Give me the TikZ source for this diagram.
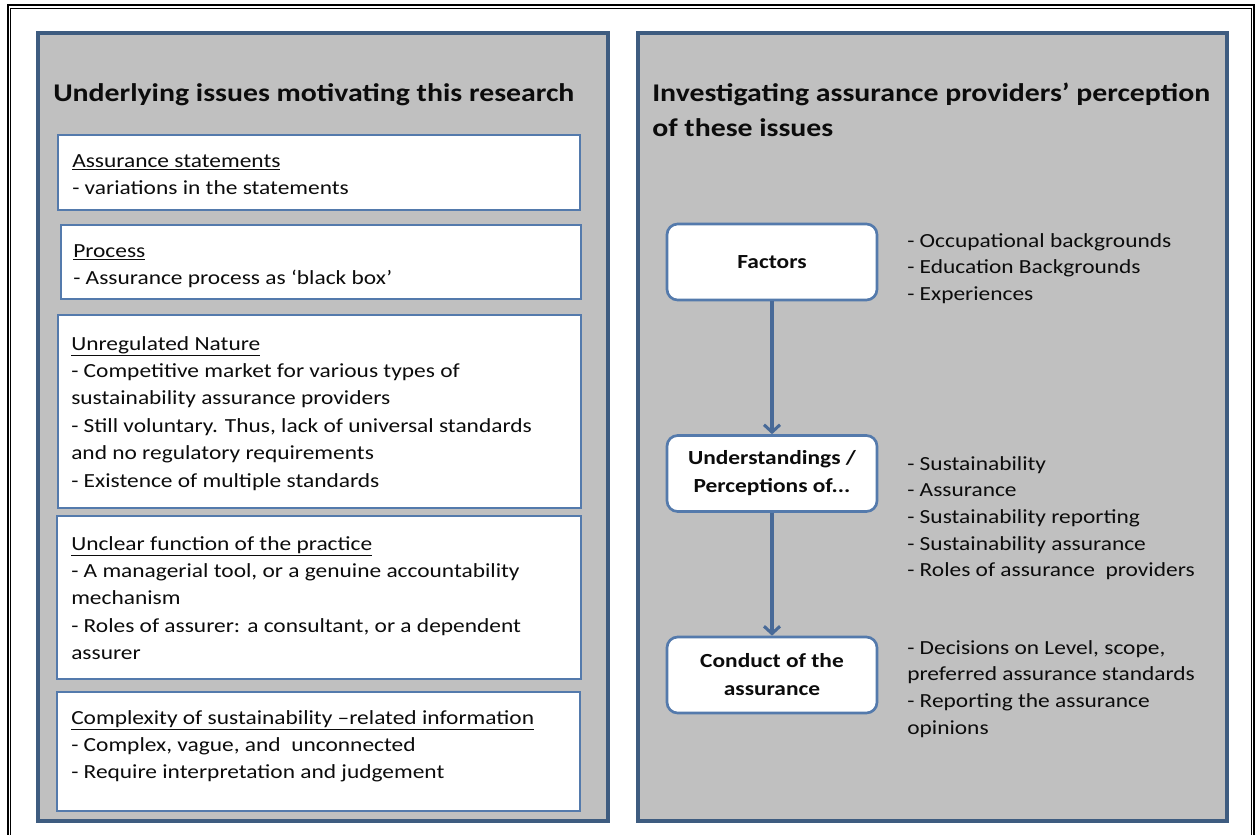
\documentclass[tikz,border=0pt]{standalone}
\usepackage{fontspec}
\setmainfont{Carlito}[FakeStretch=1.17]
\usetikzlibrary{arrows.meta}
\definecolor{panelfill}{RGB}{192,192,192}
\definecolor{panelline}{RGB}{62,92,128}
\definecolor{boxline}{RGB}{84,122,172}
\definecolor{arrowc}{RGB}{72,106,152}
\definecolor{ink}{RGB}{12,12,12}
% left-aligned lines whose baseline is that of the first line
\newcommand\stack[1]{\vtop{\halign{##\hfil\cr#1\crcr}}}
\begin{document}
\begin{tikzpicture}[x=0.75pt,y=-0.75pt,
  panel/.style={fill=panelfill,draw=panelline,line width=2.3pt},
  issuebox/.style={fill=white,draw=boxline,line width=2pt},
  title/.style={inner sep=0pt,text=ink,font=\fontsize{19.1}{26.25}\selectfont\bfseries,anchor=base west},
  body/.style={inner sep=0pt,text=ink,font=\fontsize{15}{20.6}\selectfont,anchor=base west},
  listtext/.style={body,font=\fontsize{15}{20}\selectfont},
  flow/.style={fill=white,draw=boxline,line width=2pt,rounded corners=8pt,
    minimum width=157.5pt,minimum height=57pt,text=ink,align=center,
    font=\fontsize{15}{21}\selectfont\bfseries},
  conn/.style={draw=arrowc,line width=2.3pt,-{Straight Barb[length=5.5pt,width=12pt]}}]
\useasboundingbox (0,0) rectangle (1260,835);
\fill[white] (0,0) rectangle (1260,835);
% double frame round the page
\draw[line width=1.5pt] (7.5,835) -- (7.5,5) -- (1254,5) -- (1254,835);
\draw[line width=0.75pt] (10.5,835) -- (10.5,8.5) -- (1251,8.5) -- (1251,835);

% two grey panels
\draw[panel] (38,33) rectangle (608,821);
\draw[panel] (638,33) rectangle (1227,821);

% left panel
\node[title] (ltitle) at (53,101) {Underlying issues motivating this research};

\draw[issuebox] (58,135) rectangle (580,210);
\node[body] (b1) at (72,167) {\stack{\underline{Assurance statements}\cr- variations in the statements}};

\draw[issuebox] (61,225) rectangle (581,299);
\node[body] (b2) at (73,257) {\stack{\underline{Process}\cr- Assurance process as ‘black box’}};

\draw[issuebox] (58,315) rectangle (581,508);
\node[body] (b3) at (71,350) {\stack{\underline{Unregulated Nature}\cr- Competitive market for various types of\cr sustainability assurance providers\cr- Still voluntary. Thus, lack of universal standards\cr and no regulatory requirements\cr- Existence of multiple standards}};

\draw[issuebox] (57,516) rectangle (581,679);
\node[body] (b4) at (71,550) {\stack{\underline{Unclear function of the practice}\cr- A managerial tool, or a genuine accountability\cr mechanism\cr- Roles of assurer: a consultant, or a dependent\cr assurer}};

\draw[issuebox] (57,692) rectangle (580,811);
\node[body] (b5) at (71,724) {\stack{\underline{Complexity of sustainability –related information}\cr- Complex, vague, and\ \ unconnected\cr- Require interpretation and judgement}};

% right panel
\node[title] (rtitle) at (652,101) {\stack{Investigating assurance providers’ perception\cr of these issues}};

\node[flow] (fac) at (772,262) {Factors};
\node[flow] (und) at (772,473.5) {Understandings /\\Perceptions of...};
\node[flow] (con) at (772,675) {Conduct of the\\assurance};
\draw[conn] (fac) -- (und);
\draw[conn] (und) -- (con);

\node[listtext] (l1) at (907,247) {\stack{- Occupational backgrounds\cr- Education Backgrounds\cr- Experiences}};
\node[listtext] (l2) at (907,470) {\stack{- Sustainability\cr- Assurance\cr- Sustainability reporting\cr- Sustainability assurance\cr- Roles of assurance\ \ providers}};
\node[listtext] (l3) at (907,654) {\stack{- Decisions on Level, scope,\cr preferred assurance standards\cr- Reporting the assurance\cr opinions}};
\end{tikzpicture}
\end{document}
